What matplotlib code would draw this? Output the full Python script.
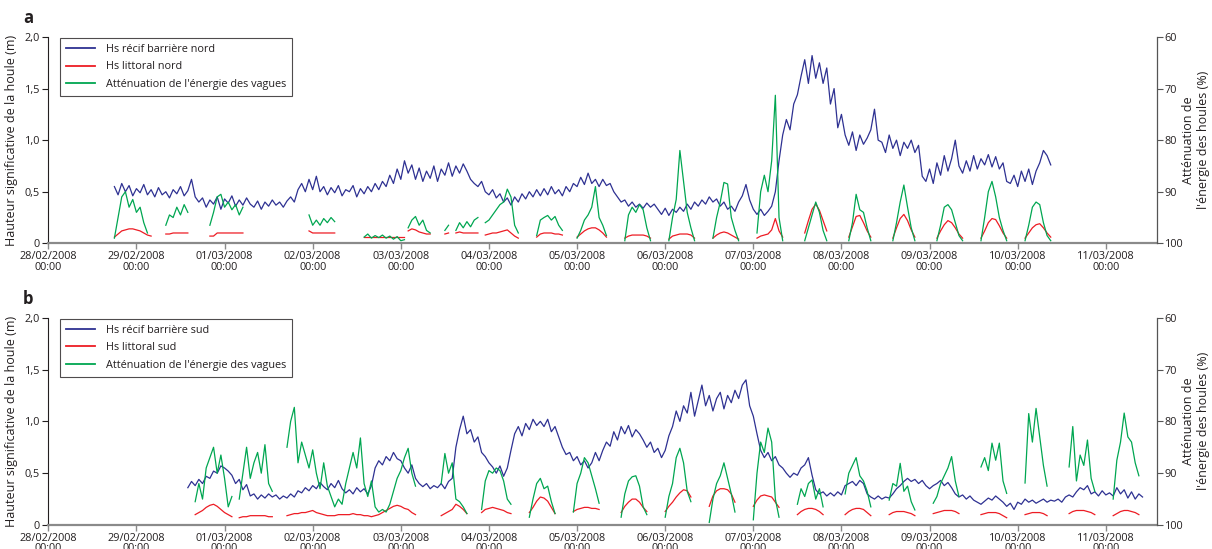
import matplotlib
matplotlib.use("Agg")
import matplotlib.pyplot as plt
from matplotlib.lines import Line2D
import numpy as np

plt.rcParams['font.family'] = ['Open Sans', 'DejaVu Sans']

# heures depuis le 28/02/2008 00:00, un point par heure
nord_recif_debut = 18
nord_recif = [
    0.55, 0.47, 0.58, 0.50, 0.56, 0.46, 0.53, 0.49, 0.57, 0.47, 0.52, 0.45,
    0.54, 0.47, 0.50, 0.44, 0.52, 0.48, 0.55, 0.46, 0.51, 0.62, 0.45, 0.40,
    0.44, 0.35, 0.42, 0.38, 0.45, 0.33, 0.43, 0.39, 0.46, 0.36, 0.42, 0.37,
    0.44, 0.38, 0.35, 0.41, 0.33, 0.40, 0.36, 0.42, 0.37, 0.40, 0.35, 0.41,
    0.45, 0.40, 0.52, 0.58, 0.50, 0.62, 0.52, 0.65, 0.50, 0.55, 0.47, 0.54,
    0.49, 0.56, 0.46, 0.52, 0.50, 0.56, 0.45, 0.53, 0.48, 0.55, 0.50, 0.58,
    0.52, 0.60, 0.55, 0.66, 0.58, 0.72, 0.62, 0.80, 0.68, 0.76, 0.62, 0.73,
    0.60, 0.70, 0.63, 0.75, 0.60, 0.72, 0.66, 0.78, 0.65, 0.75, 0.68, 0.77,
    0.70, 0.62, 0.58, 0.55, 0.60, 0.50, 0.47, 0.52, 0.44, 0.48, 0.40, 0.44,
    0.37, 0.45, 0.40, 0.48, 0.43, 0.50, 0.45, 0.52, 0.46, 0.53, 0.47, 0.55,
    0.48, 0.52, 0.46, 0.55, 0.50, 0.58, 0.55, 0.64, 0.57, 0.68, 0.58, 0.62,
    0.55, 0.62, 0.56, 0.58, 0.50, 0.45, 0.40, 0.42, 0.36, 0.40, 0.35, 0.38,
    0.34, 0.39, 0.35, 0.38, 0.33, 0.28, 0.34, 0.27, 0.33, 0.30, 0.35, 0.31,
    0.38, 0.33, 0.40, 0.36, 0.42, 0.38, 0.45, 0.40, 0.43, 0.36, 0.40, 0.33,
    0.36, 0.31, 0.40, 0.46, 0.57, 0.42, 0.33, 0.28, 0.33, 0.27, 0.31, 0.36,
    0.50, 0.80, 1.05, 1.20, 1.10, 1.35, 1.44, 1.62, 1.78, 1.55, 1.82, 1.60,
    1.75, 1.55, 1.70, 1.35, 1.50, 1.12, 1.25, 1.05, 0.95, 1.08, 0.90, 1.05,
    0.96, 1.02, 1.10, 1.30, 1.00, 0.98, 0.88, 1.05, 0.92, 1.00, 0.85, 0.98,
    0.92, 1.00, 0.88, 0.95, 0.65, 0.60, 0.72, 0.58, 0.78, 0.66, 0.85, 0.70,
    0.82, 1.00, 0.75, 0.68, 0.80, 0.70, 0.85, 0.72, 0.82, 0.76, 0.86, 0.74,
    0.84, 0.72, 0.78, 0.60, 0.58, 0.66, 0.55, 0.70, 0.60, 0.72, 0.57, 0.70,
    0.78, 0.90, 0.85, 0.76,
]

nord_littoral = [
    (18, [0.06, 0.09, 0.12, 0.13, 0.14, 0.14, 0.13, 0.12, 0.10, 0.08, 0.07]),
    (32, [0.09, 0.09, 0.10, 0.10, 0.10, 0.10, 0.10]),
    (44, [0.07, 0.07, 0.10, 0.10, 0.10, 0.10, 0.10, 0.10, 0.10, 0.10]),
    (71, [0.12, 0.10, 0.10, 0.10, 0.10, 0.10, 0.10, 0.10]),
    (86, [0.06, 0.06, 0.06, 0.06, 0.06, 0.06, 0.06, 0.06, 0.06, 0.06, 0.06, 0.06]),
    (98, [0.12, 0.14, 0.13, 0.11, 0.10, 0.09, 0.09]),
    (108, [0.09, 0.10]),
    (111, [0.10, 0.11, 0.10, 0.10, 0.10, 0.10, 0.10]),
    (119, [0.08, 0.09, 0.10, 0.10, 0.11, 0.12, 0.13, 0.10, 0.07, 0.05]),
    (133, [0.06, 0.09, 0.10, 0.10, 0.10, 0.09, 0.09, 0.08]),
    (144, [0.06, 0.09, 0.12, 0.14, 0.15, 0.15, 0.13, 0.10, 0.06]),
    (157, [0.05, 0.07, 0.08, 0.08, 0.08, 0.08, 0.07, 0.05]),
    (169, [0.04, 0.07, 0.08, 0.09, 0.09, 0.09, 0.08, 0.05]),
    (181, [0.05, 0.08, 0.10, 0.11, 0.10, 0.08, 0.06, 0.04]),
    (193, [0.05, 0.07, 0.08, 0.09, 0.13, 0.24, 0.12, 0.06]),
    (206, [0.10, 0.22, 0.33, 0.38, 0.32, 0.22, 0.12]),
    (218, [0.06, 0.16, 0.26, 0.27, 0.20, 0.12, 0.06]),
    (230, [0.05, 0.15, 0.24, 0.28, 0.22, 0.13, 0.06]),
    (242, [0.05, 0.12, 0.18, 0.22, 0.20, 0.15, 0.09, 0.05]),
    (254, [0.05, 0.12, 0.20, 0.24, 0.23, 0.17, 0.10, 0.05]),
    (266, [0.05, 0.10, 0.15, 0.18, 0.19, 0.15, 0.10, 0.06]),
]

nord_attenuation = [
    (18, [99, 95, 91, 90, 93, 91.5, 94, 93, 96, 98]),
    (32, [96.5, 94.5, 95, 93, 94.5, 92.5, 94]),
    (44, [96.5, 94, 91, 90.5, 93, 92, 93.5, 92.5, 94.5, 93]),
    (71, [94.5, 96.5, 95.5, 96.5, 95.2, 96, 95, 95.8]),
    (86, [98.8, 98.2, 99, 98.5, 98.9, 98.4, 99, 98.6, 99.2, 98.7, 99.5, 99.3]),
    (98, [97, 95.5, 94.8, 96.5, 95.5, 97.5, 98]),
    (108, [97.5, 96.5]),
    (111, [97.5, 96, 97, 95.8, 96.8, 95.5, 95]),
    (119, [96, 95.5, 94.5, 93.5, 92.5, 92, 89.5, 91, 96.5, 98]),
    (133, [98.5, 95.5, 95, 94.6, 95.5, 94.8, 96.5, 97.5]),
    (144, [99, 97.5, 95.5, 94.5, 93, 89, 95, 96.5, 98.5]),
    (157, [99.5, 94.5, 93, 94, 92.5, 93.5, 97, 99.5]),
    (169, [99.5, 95, 91.5, 82, 88, 94, 97, 99.5]),
    (181, [99, 95, 92, 88.2, 88.5, 95, 97.5, 99.5]),
    (193, [98, 90, 86.8, 90, 84, 71.3, 95, 99.5]),
    (206, [99.5, 97, 94.5, 92, 94, 97.5, 99.5]),
    (218, [99.5, 96, 90.5, 93.5, 94, 97, 99.5]),
    (230, [99.5, 96, 92, 88.7, 93, 97, 99.5]),
    (242, [99.5, 96.5, 93, 92.5, 93.5, 96, 98.5, 99.5]),
    (254, [99.5, 95, 90, 88, 91, 95, 97.5, 99.5]),
    (266, [99.5, 96.5, 93, 92, 92.5, 96, 98.5, 99.5]),
]

sud_recif_debut = 38
sud_recif = [
    0.36, 0.42, 0.38, 0.44, 0.40, 0.47, 0.45, 0.52, 0.50, 0.57, 0.55, 0.52,
    0.48, 0.40, 0.44, 0.34, 0.39, 0.28, 0.30, 0.25, 0.29, 0.26, 0.30, 0.27,
    0.29, 0.25, 0.28, 0.26, 0.30, 0.27, 0.33, 0.31, 0.36, 0.33, 0.38, 0.35,
    0.41, 0.37, 0.34, 0.40, 0.36, 0.43, 0.35, 0.31, 0.34, 0.30, 0.36, 0.32,
    0.35, 0.30, 0.38, 0.55, 0.62, 0.58, 0.66, 0.62, 0.70, 0.64, 0.62, 0.55,
    0.50, 0.58, 0.45, 0.40, 0.37, 0.40, 0.35, 0.38, 0.36, 0.40, 0.35, 0.42,
    0.45, 0.75, 0.92, 1.05, 0.88, 0.92, 0.80, 0.85, 0.70, 0.66, 0.60, 0.56,
    0.50, 0.57, 0.47, 0.55, 0.72, 0.88, 0.95, 0.86, 0.98, 0.92, 1.02, 0.96,
    1.00, 0.95, 1.02, 0.90, 0.95, 0.85, 0.75, 0.68, 0.70, 0.62, 0.66, 0.58,
    0.62, 0.55, 0.60, 0.70, 0.62, 0.72, 0.80, 0.76, 0.90, 0.82, 0.95, 0.88,
    0.96, 0.85, 0.92, 0.88, 0.82, 0.75, 0.80, 0.70, 0.74, 0.65, 0.72, 0.86,
    0.95, 1.10, 1.00, 1.15, 1.08, 1.28, 1.05, 1.20, 1.35, 1.15, 1.25, 1.10,
    1.22, 1.28, 1.12, 1.25, 1.18, 1.30, 1.22, 1.35, 1.40, 1.15, 1.05, 0.88,
    0.72, 0.65, 0.70, 0.62, 0.66, 0.58, 0.55, 0.50, 0.46, 0.50, 0.48, 0.55,
    0.58, 0.65, 0.48, 0.34, 0.30, 0.32, 0.28, 0.31, 0.28, 0.32, 0.29, 0.38,
    0.40, 0.42, 0.38, 0.43, 0.40, 0.30, 0.27, 0.25, 0.28, 0.25, 0.27, 0.26,
    0.30, 0.35, 0.38, 0.42, 0.45, 0.42, 0.44, 0.40, 0.43, 0.38, 0.35, 0.38,
    0.40, 0.43, 0.38, 0.41, 0.36, 0.30, 0.27, 0.29, 0.25, 0.28, 0.24, 0.22,
    0.20, 0.23, 0.26, 0.24, 0.28, 0.25, 0.22, 0.18, 0.21, 0.15, 0.22, 0.20,
    0.25, 0.22, 0.24, 0.21, 0.23, 0.25, 0.22, 0.24, 0.23, 0.25, 0.22, 0.27,
    0.29, 0.27, 0.32, 0.36, 0.34, 0.38, 0.30, 0.32, 0.28, 0.33, 0.29, 0.31,
    0.28, 0.36, 0.30, 0.34, 0.26, 0.32, 0.25, 0.30, 0.27,
]

sud_littoral = [
    (40, [0.10, 0.12, 0.14, 0.17, 0.19, 0.20, 0.18, 0.15, 0.12, 0.10, 0.08]),
    (52, [0.07, 0.08, 0.08, 0.09, 0.09, 0.09, 0.09, 0.09, 0.08, 0.08]),
    (65, [0.09, 0.10, 0.11, 0.11, 0.12, 0.12, 0.13, 0.14, 0.12, 0.11,
          0.10, 0.09, 0.09, 0.09, 0.10, 0.10, 0.10, 0.10, 0.11, 0.10,
          0.10, 0.09, 0.09, 0.08, 0.09, 0.10, 0.12, 0.14, 0.16, 0.18,
          0.19, 0.18, 0.16, 0.15, 0.12, 0.10]),
    (107, [0.09, 0.11, 0.13, 0.15, 0.20, 0.18, 0.15, 0.11]),
    (118, [0.12, 0.15, 0.16, 0.17, 0.16, 0.15, 0.14, 0.12, 0.11]),
    (131, [0.12, 0.17, 0.23, 0.27, 0.26, 0.23, 0.17, 0.11]),
    (143, [0.13, 0.15, 0.16, 0.17, 0.17, 0.16, 0.16, 0.15]),
    (156, [0.12, 0.18, 0.22, 0.25, 0.25, 0.22, 0.17, 0.13]),
    (168, [0.13, 0.18, 0.22, 0.27, 0.31, 0.34, 0.33, 0.27]),
    (180, [0.18, 0.28, 0.33, 0.35, 0.35, 0.34, 0.30, 0.22]),
    (192, [0.18, 0.24, 0.28, 0.29, 0.28, 0.27, 0.22, 0.17]),
    (204, [0.10, 0.13, 0.15, 0.16, 0.16, 0.15, 0.13, 0.10]),
    (217, [0.10, 0.13, 0.15, 0.16, 0.16, 0.15, 0.12, 0.09]),
    (229, [0.10, 0.12, 0.13, 0.13, 0.13, 0.12, 0.11, 0.09]),
    (241, [0.11, 0.12, 0.13, 0.14, 0.14, 0.14, 0.13, 0.11]),
    (254, [0.10, 0.11, 0.12, 0.12, 0.12, 0.11, 0.09, 0.07]),
    (266, [0.10, 0.11, 0.12, 0.12, 0.12, 0.11, 0.09]),
    (278, [0.11, 0.13, 0.14, 0.14, 0.14, 0.13, 0.12, 0.10]),
    (290, [0.09, 0.11, 0.13, 0.14, 0.14, 0.13, 0.12, 0.10]),
]

sud_attenuation = [
    (40, [95.5, 92, 95, 89, 87, 85, 90, 86.5, 91, 96.5, 94.5]),
    (52, [95, 90, 85, 91, 88, 86, 90, 84.5, 92, 93.5]),
    (65, [85, 80, 77.3, 88, 84, 86.5, 89, 85.5, 90, 93,
          88, 92.5, 94.5, 96.5, 95, 96, 92, 89, 86, 89,
          83.2, 92, 94.5, 91.5, 96.5, 97.5, 97, 97.5, 96, 93.5,
          91, 89.5, 87, 85.2, 90, 92.5]),
    (107, [92, 86.2, 90, 88, 95, 95.5, 96.5, 97.8]),
    (118, [97, 91.5, 89.5, 90, 89, 89.5, 91.5, 95, 96]),
    (131, [98.5, 95, 92, 91, 93, 92.5, 95.5, 97.8]),
    (143, [97.5, 92, 90, 87, 88, 90.5, 93, 95.8]),
    (156, [98.5, 94, 91.5, 90.7, 90.5, 92.5, 96.5, 98]),
    (168, [98.5, 94.5, 92, 87, 85.2, 88, 93.5, 95.5]),
    (180, [99.5, 95, 92, 90.5, 88, 91, 94, 97.5]),
    (192, [99, 90, 84, 86, 81.3, 84, 95, 98.5]),
    (204, [96, 93, 94.5, 92, 91.3, 95, 93, 96.5]),
    (217, [94, 90, 88.5, 87, 90.5, 91.5, 93.5, 96.5]),
    (229, [95.2, 92, 92.5, 88.1, 93.5, 92.5, 95.5, 97.1]),
    (241, [95.8, 94.5, 92, 90.5, 89, 86.8, 91.5, 94.5]),
    (254, [88.8, 87, 89.5, 84.2, 87.5, 84.2, 91.5, 93.9]),
    (266, [91.9, 78.5, 84, 77.5, 83, 88.5, 92.5]),
    (278, [88.8, 81, 91.5, 86.5, 88.5, 83.6, 91, 93.5]),
    (290, [95, 87.5, 84, 78.4, 83, 84, 88, 90.5]),
]

jours = ["28/02/2008", "29/02/2008", "01/03/2008", "02/03/2008", "03/03/2008",
         "04/03/2008", "05/03/2008", "06/03/2008", "07/03/2008", "08/03/2008",
         "09/03/2008", "10/03/2008", "11/03/2008"]
hauteur_ticks = [0, 0.5, 1.0, 1.5, 2.0]
hauteur_labels = ["0", "0,5", "1,0", "1,5", "2,0"]
attenuation_ticks = [60, 70, 80, 90, 100]

legende_nord = ["Hs récif barrière nord", "Hs littoral nord",
                "Atténuation de l'énergie des vagues"]
legende_sud = ["Hs récif barrière sud", "Hs littoral sud",
               "Atténuation de l'énergie des vagues"]

BLEU = "#2e3192"
ROUGE = "#ed1c24"
VERT = "#00a651"
TEXTE = "#231f20"
W, H = 1212, 549

fig = plt.figure(figsize=(W / 100, H / 100), dpi=100)


def trace(ax, debut, valeurs, couleur):
    x = debut + np.arange(len(valeurs))
    ax.plot(x, valeurs, color=couleur, lw=0.9)


def panneau(haut_px, bas_px, lettre, recif_debut, recif, littoral, attenuation, noms):
    left = 48.3 / W
    ax = fig.add_axes([left, 1 - bas_px / H, (1156.5 - 48.3) / W, (bas_px - haut_px) / H])
    ax2 = ax.twinx()

    trace(ax, recif_debut, recif, BLEU)
    for d, v in littoral:
        trace(ax, d, v, ROUGE)
    for d, v in attenuation:
        trace(ax2, d, v, VERT)

    ax.set_xlim(0, 301.8)
    ax.set_ylim(0, 2)
    ax2.set_ylim(100, 60)

    ax.set_xticks(np.arange(len(jours)) * 24)
    ax.set_xticklabels([j + "\n00:00" for j in jours], linespacing=0.95)
    ax.set_yticks(hauteur_ticks)
    ax.set_yticklabels(hauteur_labels)
    ax2.set_yticks(attenuation_ticks)

    ax.spines['top'].set_visible(False)
    ax.spines['right'].set_visible(False)
    for s in ['top', 'left', 'bottom']:
        ax2.spines[s].set_visible(False)
    ax.spines['bottom'].set_color('#8a8a8a')
    ax.spines['bottom'].set_linewidth(1.6)
    ax.spines['left'].set_color(TEXTE)
    ax.spines['left'].set_linewidth(0.8)
    ax2.spines['right'].set_color('#555555')
    ax2.spines['right'].set_linewidth(0.9)

    ax.tick_params(axis='x', length=4, width=1, color='#8a8a8a', labelsize=7.8,
                   labelcolor=TEXTE, pad=1.5)
    ax.tick_params(axis='y', length=4, width=0.8, color=TEXTE, labelsize=7.8,
                   labelcolor=TEXTE, pad=2)
    ax2.tick_params(axis='y', length=4, width=0.8, color='#555555', labelsize=7.8,
                    labelcolor=TEXTE, pad=2)

    mid = (haut_px + bas_px) / 2
    fig.text(12 / W, 1 - mid / H, "Hauteur significative de la houle (m)",
             rotation=90, ha='center', va='center', fontsize=9, color=TEXTE)
    fig.text(1196 / W, 1 - mid / H, "Atténuation de\nl'énergie des houles (%)",
             rotation=90, ha='center', va='center', fontsize=9, color=TEXTE,
             multialignment='center', linespacing=1.1)
    fig.text(28 / W, 1 - (haut_px - 19) / H, lettre, fontsize=12,
             fontweight='bold', ha='center', va='center', color=TEXTE)

    poignees = [Line2D([], [], color=c, lw=1.3) for c in (BLEU, ROUGE, VERT)]
    leg = ax2.legend(poignees, noms, loc='upper left',
                     bbox_to_anchor=(60 / W, 1 - (haut_px + 1) / H),
                     bbox_transform=fig.transFigure, fontsize=7.8,
                     frameon=True, fancybox=False, edgecolor=TEXTE,
                     handlelength=2.7, handletextpad=1.0, labelspacing=0.6,
                     borderpad=0.55, borderaxespad=0)
    leg.get_frame().set_linewidth(0.8)
    for t in leg.get_texts():
        t.set_color(TEXTE)


panneau(37, 243.3, "a", nord_recif_debut, nord_recif, nord_littoral,
        nord_attenuation, legende_nord)
panneau(317.7, 525, "b", sud_recif_debut, sud_recif, sud_littoral,
        sud_attenuation, legende_sud)

fig.savefig("out.png", dpi=100)
